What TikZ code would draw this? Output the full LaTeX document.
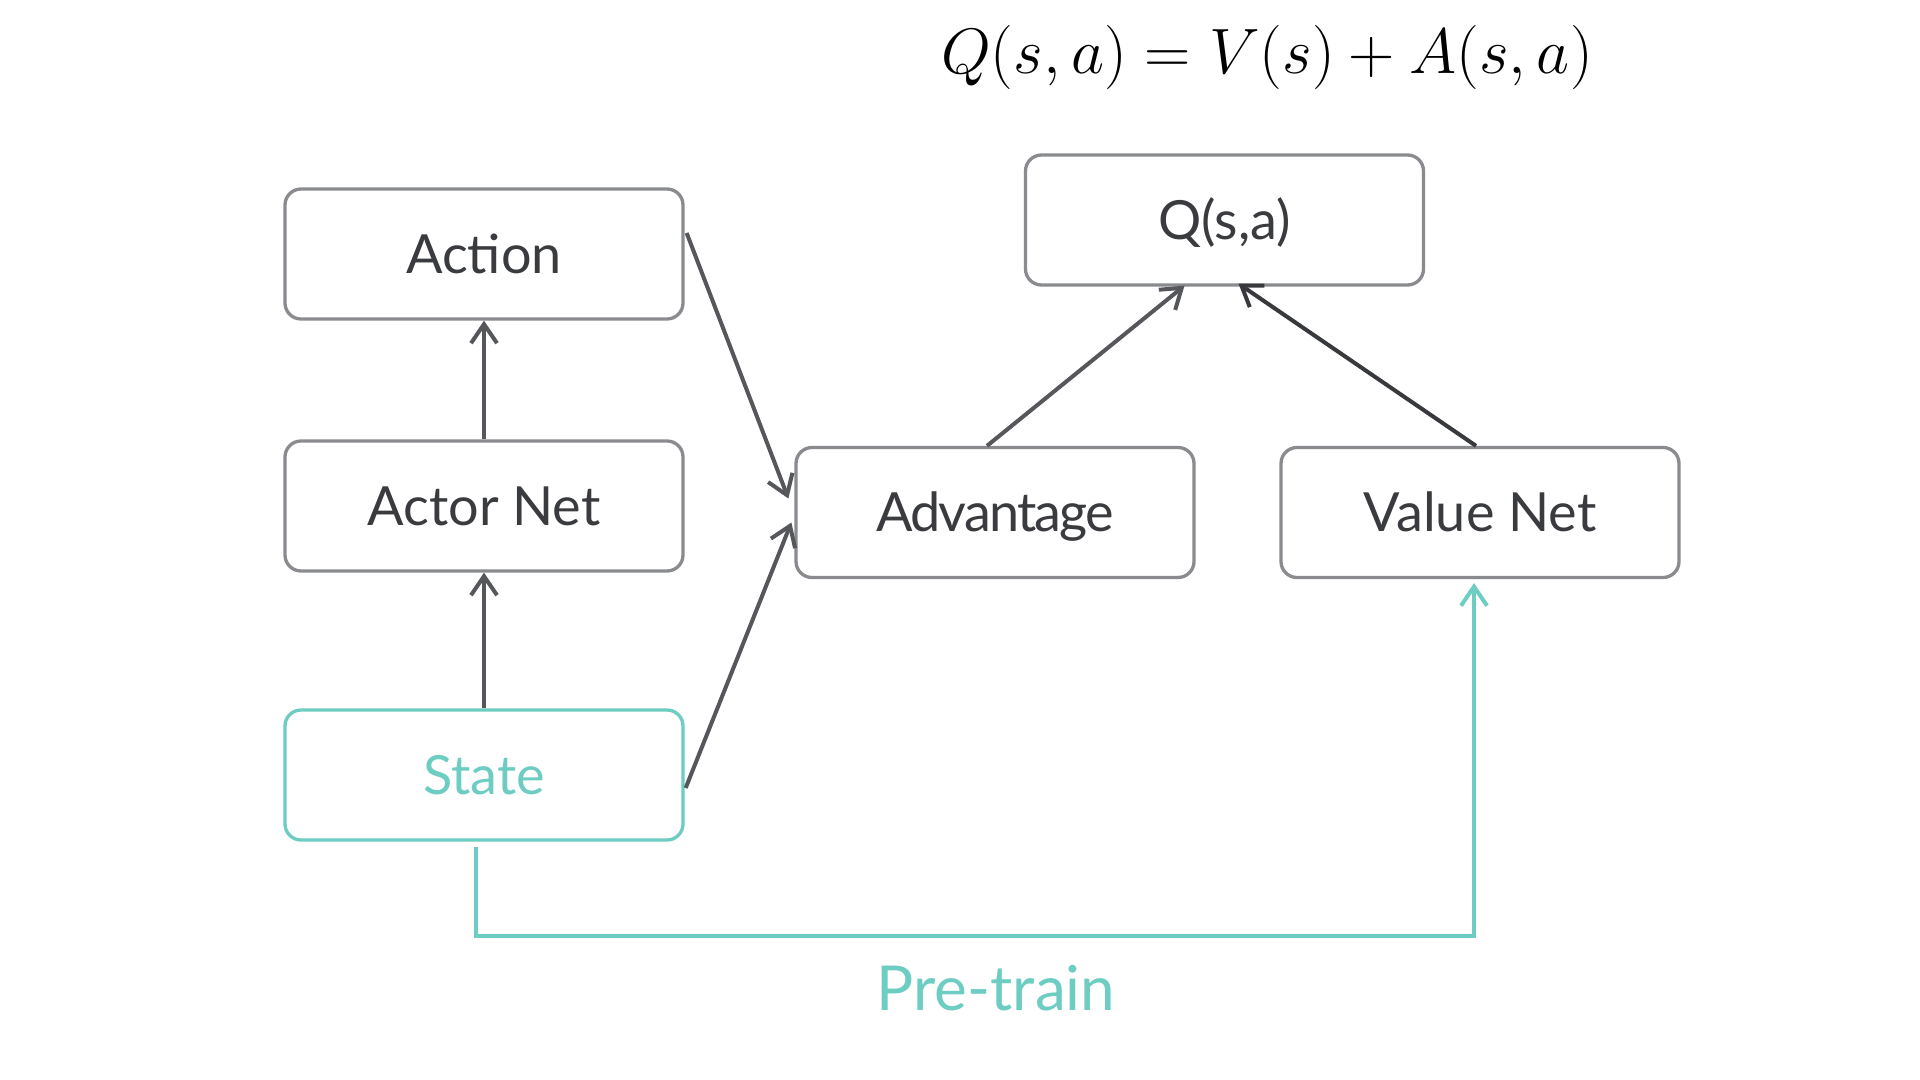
\documentclass[tikz,border=0pt]{standalone}
\usepackage{fontspec}
\usepackage{graphicx}
\setmainfont{Lato}
\usetikzlibrary{arrows.meta,calc}
\definecolor{boxgray}{HTML}{8A8B8F}
\definecolor{arrgray}{HTML}{56575B}
\definecolor{arrdark}{HTML}{38393C}
\definecolor{txtgray}{HTML}{3A3B3E}
\definecolor{teal}{HTML}{6DCDC2}
\tikzset{
  blk/.style={draw=boxgray, line width=1.65pt, rounded corners=8pt, minimum width=199pt, minimum height=65pt, inner sep=0pt, text height=19.3pt, text depth=0pt, text=txtgray, font=\fontsize{27pt}{32pt}\selectfont},
  tealblk/.style={blk, draw=teal, text=teal},
  arr/.style={draw=arrgray, line width=2pt, -{Straight Barb[length=9.5pt,width=13pt,line width=2pt]}},
  tarr/.style={draw=teal, line width=2pt, -{Straight Barb[length=9.5pt,width=13pt,line width=2pt]}}
}
\begin{document}
\begin{tikzpicture}[x=0.5pt,y=-0.5pt]
\useasboundingbox[fill=white] (0,0) rectangle (1920,1080);
\node[blk] (action) at (484,254) {Action};
\node[blk] (actor) at (484,506) {Actor Net};
\node[tealblk] (state) at (484,775) {State};
\node[blk] (q) at (1224.5,220) {Q(s,a)};
\node[blk] (adv) at (995,512.5) {\addfontfeature{LetterSpace=-3.5}Advantage};
\node[blk] (val) at (1480,512.5) {Value Net};
\node[font=\fontsize{24.88pt}{30pt}\selectfont, inner sep=0pt] (eq) at (1267,57) {\scalebox{1.29}{$Q(s,a) = V(s) + A(s,a)$}};
\node[text=teal, font=\fontsize{31pt}{37pt}\selectfont] (pt) at (996,988) {Pre-train};
\draw[arr] (actor.north) -- (action.south);
\draw[arr] (state.north) -- (actor.south);
\draw[arr] ($(action.east)+(2,-21)$) -- ($(adv.west)+(-6,-14)$);
\draw[arr] ($(state.east)+(1,13)$) -- ($(adv.west)+(-3,10)$);
\draw[arr] ($(adv.north)+(-8,0)$) -- ($(q.south)+(-40,-1)$);
\draw[arr, draw=arrdark] ($(val.north)+(-4,0)$) -- ($(q.south)+(14,-3)$);
\coordinate (c1) at ($(state.south)+(-8,934-840)$);
\draw[tarr] ($(state.south)+(-8,5)$) -- (c1) -| ($(val.south)+(-6,4)$);
\end{tikzpicture}
\end{document}
